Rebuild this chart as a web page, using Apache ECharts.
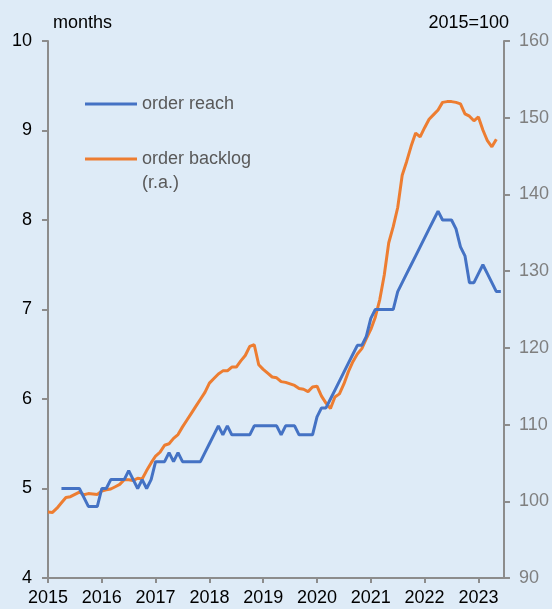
<!DOCTYPE html>
<html>
<head>
<meta charset="utf-8">
<script src="https://cdn.jsdelivr.net/npm/echarts@6/dist/echarts.min.js"></script>
<style>
html,body{margin:0;padding:0;background:#DEEBF7;}
#chart{width:552px;height:609px;}
</style>
</head>
<body>
<div id="chart"></div>
<script>
// Monthly observations, Jan 2015 .. Jun 2023
var months = [];
(function(){ for (var y = 2015; y <= 2023; y++) for (var mo = 1; mo <= 12; mo++) { if (y === 2023 && mo > 6) break; months.push(y + '-' + (mo < 10 ? '0' + mo : mo)); } })();

var yearTicks = [2015, 2016, 2017, 2018, 2019, 2020, 2021, 2022, 2023];
var leftTicks = [4, 5, 6, 7, 8, 9, 10];
var rightTicks = [90, 100, 110, 120, 130, 140, 150, 160];

// order reach (months), left axis
var orderReach = [
  null, null, null, 5.0, 5.0, 5.0, 5.0, 5.0, 4.9, 4.8, 4.8, 4.8,
  5.0, 5.0, 5.1, 5.1, 5.1, 5.1, 5.2, 5.1, 5.0, 5.1, 5.0, 5.1,
  5.3, 5.3, 5.3, 5.4, 5.3, 5.4, 5.3, 5.3, 5.3, 5.3, 5.3, 5.4,
  5.5, 5.6, 5.7, 5.6, 5.7, 5.6, 5.6, 5.6, 5.6, 5.6, 5.7, 5.7,
  5.7, 5.7, 5.7, 5.7, 5.6, 5.7, 5.7, 5.7, 5.6, 5.6, 5.6, 5.6,
  5.8, 5.9, 5.9, 6.0, 6.1, 6.2, 6.3, 6.4, 6.5, 6.6, 6.6, 6.7,
  6.9, 7.0, 7.0, 7.0, 7.0, 7.0, 7.2, 7.3, 7.4, 7.5, 7.6, 7.7,
  7.8, 7.9, 8.0, 8.1, 8.0, 8.0, 8.0, 7.9, 7.7, 7.6, 7.3, 7.3,
  7.4, 7.5, 7.4, 7.3, 7.2, 7.2
];

// order backlog (2015=100), right axis
var orderBacklog = [
  98.6, 98.55, 99.1, 99.8, 100.5, 100.6, 100.9, 101.2, 100.85, 101.0, 100.95, 100.9,
  101.35, 101.5, 101.6, 101.9, 102.2, 102.8, 102.8, 102.7, 103.0, 102.9, 104.0, 105.0,
  105.9, 106.4, 107.3, 107.5, 108.2, 108.7, 109.7, 110.6, 111.5, 112.4, 113.3, 114.2,
  115.4, 116.0, 116.6, 117.0, 117.0, 117.5, 117.5, 118.3, 119.0, 120.2, 120.4, 117.8,
  117.2, 116.7, 116.2, 116.1, 115.6, 115.5, 115.3, 115.1, 114.7, 114.6, 114.3, 114.9,
  115.0, 113.7, 112.8, 112.1, 113.6, 114.0, 115.3, 116.9, 118.2, 119.2, 119.9, 121.2,
  122.4, 124.0, 126.3, 129.5, 133.7, 135.8, 138.3, 142.5, 144.3, 146.3, 148.0, 147.5,
  148.7, 149.8, 150.4, 151.0, 152.0, 152.1, 152.1, 152.0, 151.8, 150.5, 150.2, 149.6,
  150.1, 148.4, 147.0, 146.2, 147.2, null
];

function toYear(s) { var p = s.split('-'); return +p[0] + (+p[1] - 1) / 12; }
function pairs(vals) {
  var out = [];
  for (var i = 0; i < months.length; i++) if (vals[i] != null) out.push([toYear(months[i]), vals[i]]);
  return out;
}

var FONT = '"Liberation Sans", Arial, sans-serif';
var axisGray = '#8C8C8C';
var chart = echarts.init(document.getElementById('chart'), null, {renderer: 'canvas'});
chart.setOption({
  backgroundColor: '#DEEBF7',
  animation: false,
  textStyle: {fontFamily: FONT},
  grid: {left: 48, right: 46, top: 41, bottom: 31, containLabel: false},
  legend: {
    orient: 'vertical', left: 85, top: 95, itemGap: 37, padding: 0,
    itemWidth: 52, itemHeight: 3, icon: 'rect',
    textStyle: {fontFamily: FONT, fontSize: 18, color: '#595959'},
    data: ['order reach', 'order backlog']
  },
  graphic: [
    {type: 'text', left: 142, top: 174, style: {text: '(r.a.)', font: '18px ' + FONT, fill: '#595959'}},
    {type: 'text', left: 53, top: 14, style: {text: 'months', font: '18px ' + FONT, fill: '#000'}},
    {type: 'text', right: 43, top: 14, style: {text: '2015=100', font: '18px ' + FONT, fill: '#000'}}
  ],
  xAxis: {
    type: 'value', min: 2015, max: 2015 + 101.7 / 12, interval: 1,
    splitLine: {show: false},
    axisLine: {lineStyle: {color: axisGray, width: 2}},
    axisTick: {show: true, length: 5, lineStyle: {color: axisGray, width: 2}, customValues: yearTicks},
    axisLabel: {customValues: yearTicks, color: '#000', fontSize: 18, fontFamily: FONT, margin: 11,
      formatter: function (v) { return String(Math.round(v)); }}
  },
  yAxis: [
    {
      type: 'value', min: 4, max: 10, interval: 1, position: 'left',
      splitLine: {show: false},
      axisLine: {show: true, lineStyle: {color: axisGray, width: 2}},
      axisTick: {show: true, length: 6, lineStyle: {color: axisGray, width: 2}, customValues: leftTicks},
      axisLabel: {color: '#000', fontSize: 18, fontFamily: FONT, margin: 16, customValues: leftTicks}
    },
    {
      type: 'value', min: 90, max: 160, interval: 10, position: 'right',
      splitLine: {show: false},
      axisLine: {show: true, lineStyle: {color: axisGray, width: 2}},
      axisTick: {show: true, length: 6, lineStyle: {color: axisGray, width: 2}, customValues: rightTicks},
      axisLabel: {color: '#7F7F7F', fontSize: 18, fontFamily: FONT, margin: 15, customValues: rightTicks}
    }
  ],
  series: [
    {
      name: 'order reach', type: 'line', yAxisIndex: 0, showSymbol: false, symbol: 'none',
      data: pairs(orderReach), lineStyle: {color: '#4472C4', width: 3}, itemStyle: {color: '#4472C4'}, z: 3
    },
    {
      name: 'order backlog', type: 'line', yAxisIndex: 1, showSymbol: false, symbol: 'none',
      data: pairs(orderBacklog), lineStyle: {color: '#ED7D31', width: 3}, itemStyle: {color: '#ED7D31'}, z: 2
    }
  ]
});
</script>
</body>
</html>
